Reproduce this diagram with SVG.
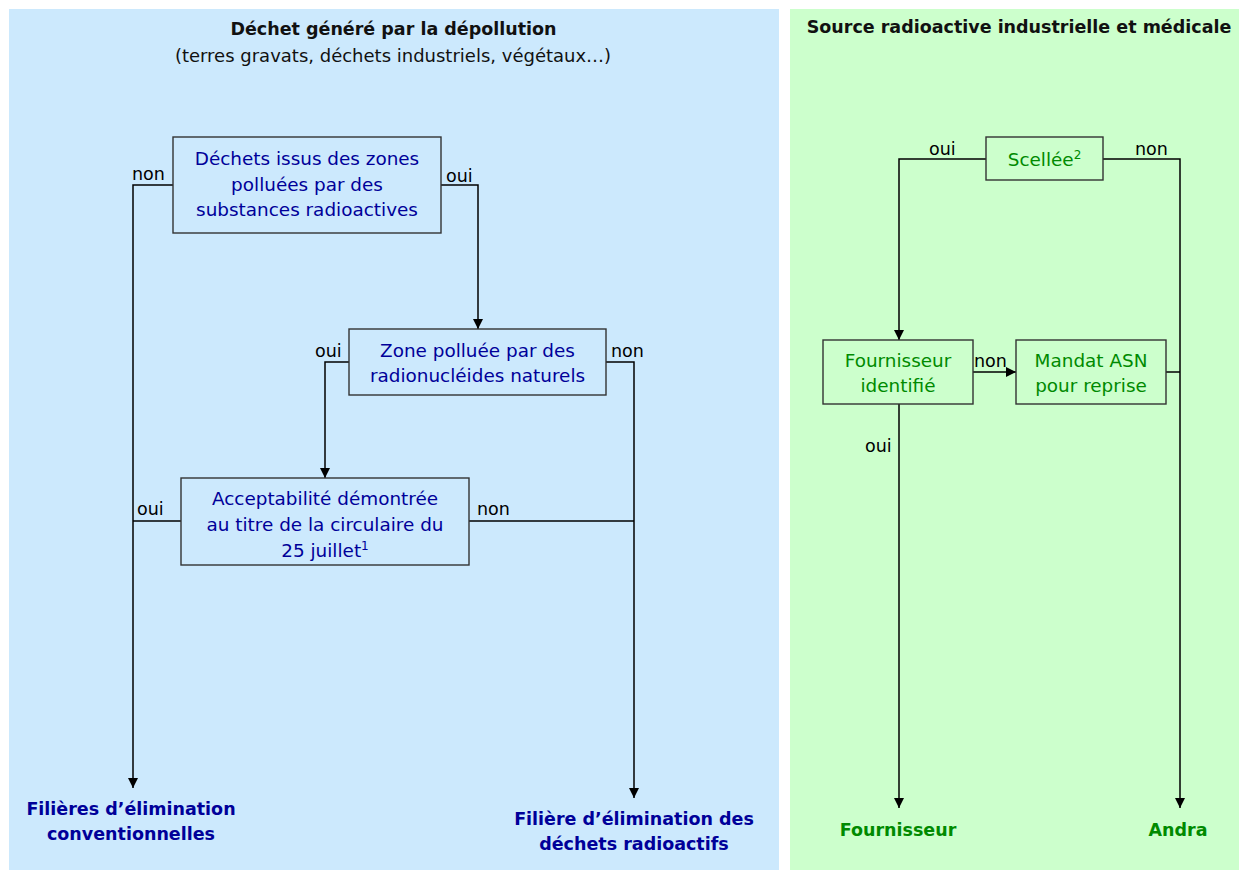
<svg xmlns="http://www.w3.org/2000/svg" width="1239" height="870" viewBox="0 0 1239 870">
  <style>
    .panel-blue { fill: #cce9fd; }
    .panel-green { fill: #ccffcc; }
    .box { fill: none; stroke: #333333; stroke-width: 1.4; }
    .wire { fill: none; stroke: #000000; stroke-width: 1.5; }
    .title { font-family: "DejaVu Sans", Verdana, sans-serif; font-size: 17.5px; font-weight: bold; fill: #111111; text-anchor: middle; }
    .sub { font-family: "DejaVu Sans", Verdana, sans-serif; font-size: 18px; fill: #111111; text-anchor: middle; }
    .btxt { font-family: "DejaVu Sans", Verdana, sans-serif; font-size: 18.4px; fill: #000099; text-anchor: middle; }
    .gtxt { font-family: "DejaVu Sans", Verdana, sans-serif; font-size: 18.4px; fill: #008a00; text-anchor: middle; }
    .sup { font-size: 12px; }
    .lbl { font-family: "DejaVu Sans", Verdana, sans-serif; font-size: 17.5px; fill: #000000; }
    .bend { font-family: "DejaVu Sans", Verdana, sans-serif; font-size: 17.5px; font-weight: bold; fill: #000099; text-anchor: middle; }
    .gend { font-family: "DejaVu Sans", Verdana, sans-serif; font-size: 17.5px; font-weight: bold; fill: #008a00; text-anchor: middle; }
  </style>
  <defs>
    <marker id="arrow" markerUnits="userSpaceOnUse" markerWidth="11" markerHeight="11" refX="10" refY="5" orient="auto">
      <path d="M0,0 L10,5 L0,10 z" fill="#000000"/>
    </marker>
  </defs>

  <rect width="1239" height="870" fill="#ffffff"/>

  <!-- background panels -->
  <g id="panel-depollution">
    <rect class="panel-blue" x="9" y="9" width="770" height="861"/>
    <text class="title" x="393.5" y="35">Déchet généré par la dépollution</text>
    <text class="sub" x="393" y="62">(terres gravats, déchets industriels, végétaux…)</text>
  </g>
  <g id="panel-source">
    <rect class="panel-green" x="790" y="9" width="449" height="861"/>
    <text class="title" x="1019" y="33">Source radioactive industrielle et médicale</text>
  </g>

  <!-- connectors -->
  <g id="connectors">
    <path class="wire" d="M173,185 H133 V788" marker-end="url(#arrow)"/>
    <path class="wire" d="M181,521 H133"/>
    <path class="wire" d="M441,185 H478 V329" marker-end="url(#arrow)"/>
    <path class="wire" d="M349,362 H325 V478" marker-end="url(#arrow)"/>
    <path class="wire" d="M606,362 H634 V798" marker-end="url(#arrow)"/>
    <path class="wire" d="M469,521 H634"/>
    <path class="wire" d="M986,159 H899 V340" marker-end="url(#arrow)"/>
    <path class="wire" d="M1103,159 H1180 V808" marker-end="url(#arrow)"/>
    <path class="wire" d="M973,372 H1016" marker-end="url(#arrow)"/>
    <path class="wire" d="M1166,372 H1180"/>
    <path class="wire" d="M899,404 V808" marker-end="url(#arrow)"/>

    <text class="lbl" x="132" y="180">non</text>
    <text class="lbl" x="446" y="182">oui</text>
    <text class="lbl" x="315" y="357">oui</text>
    <text class="lbl" x="611" y="357">non</text>
    <text class="lbl" x="137" y="515">oui</text>
    <text class="lbl" x="477" y="515">non</text>
    <text class="lbl" x="929" y="155">oui</text>
    <text class="lbl" x="1135" y="155">non</text>
    <text class="lbl" x="974" y="367">non</text>
    <text class="lbl" x="865" y="452">oui</text>
  </g>

  <!-- decision nodes -->
  <g id="node-zones-polluees">
    <rect class="box" x="173" y="137" width="268" height="96"/>
    <text class="btxt" x="307" y="165">Déchets issus des zones</text>
    <text class="btxt" x="307" y="190.5">polluées par des</text>
    <text class="btxt" x="307" y="216">substances radioactives</text>
  </g>
  <g id="node-naturels">
    <rect class="box" x="349" y="329" width="257" height="66"/>
    <text class="btxt" x="477.5" y="357">Zone polluée par des</text>
    <text class="btxt" x="477.5" y="382">radionucléides naturels</text>
  </g>
  <g id="node-acceptabilite">
    <rect class="box" x="181" y="478" width="288" height="87"/>
    <text class="btxt" x="325" y="505">Acceptabilité démontrée</text>
    <text class="btxt" x="325" y="531">au titre de la circulaire du</text>
    <text class="btxt" x="325" y="557">25 juillet<tspan class="sup" dy="-7">1</tspan></text>
  </g>
  <g id="node-scellee">
    <rect class="box" x="986" y="137" width="117" height="43"/>
    <text class="gtxt" x="1044.5" y="166">Scellée<tspan class="sup" dy="-7">2</tspan></text>
  </g>
  <g id="node-fournisseur-identifie">
    <rect class="box" x="823" y="340" width="150" height="64"/>
    <text class="gtxt" x="898" y="367">Fournisseur</text>
    <text class="gtxt" x="898" y="392">identifié</text>
  </g>
  <g id="node-mandat-asn">
    <rect class="box" x="1016" y="340" width="150" height="64"/>
    <text class="gtxt" x="1091" y="367">Mandat ASN</text>
    <text class="gtxt" x="1091" y="392">pour reprise</text>
  </g>

  <!-- outcomes -->
  <g id="end-conventionnelles">
    <text class="bend" x="131" y="815">Filières d’élimination</text>
    <text class="bend" x="131" y="840">conventionnelles</text>
  </g>
  <g id="end-radioactifs">
    <text class="bend" x="634" y="825">Filière d’élimination des</text>
    <text class="bend" x="634" y="850">déchets radioactifs</text>
  </g>
  <g id="end-fournisseur">
    <text class="gend" x="898" y="836">Fournisseur</text>
  </g>
  <g id="end-andra">
    <text class="gend" x="1178" y="836">Andra</text>
  </g>
</svg>
